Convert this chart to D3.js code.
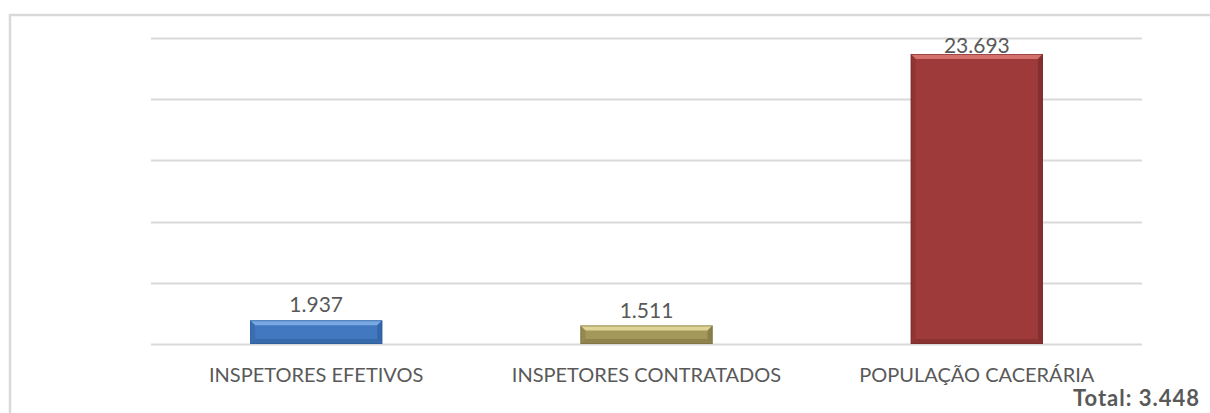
<!DOCTYPE html>
<html>
<head>
<meta charset="utf-8">
<script src="https://cdn.jsdelivr.net/npm/d3@7"></script>
<style>
  html, body { margin: 0; padding: 0; background: #fff; }
  svg { display: block; }
</style>
</head>
<body>
<div class="graph"></div>
<script>
const categories = ["INSPETORES EFETIVOS", "INSPETORES CONTRATADOS", "POPULAÇÃO CACERÁRIA"];
const values = [1937, 1511, 23693];
const valueLabels = ["1.937", "1.511", "23.693"];
const gridTicks = [0, 5000, 10000, 15000, 20000, 25000];
const totalLabel = "Total: 3.448";

const barColors = [
    { main: "#4178c0", light: "#79a8e2", dark: "#2b5b96" },
    { main: "#a3975a", light: "#ddd495", dark: "#7a7040" },
    { main: "#9e3b3a", light: "#d4716c", dark: "#752a29" },
];

const width = 1210;
const height = 413;
const margin = { top: 38, right: 68, bottom: 69, left: 151 };
const bevel = 5;

const svg = d3.select(".graph")
        .append("svg")
        .attr("width", width)
        .attr("height", height);

// outer chart border (runs off the right and bottom edges)
svg.append("rect")
        .attr("x", 10)
        .attr("y", 15)
        .attr("width", width)
        .attr("height", height)
        .attr("fill", "none")
        .attr("stroke", "#d9d9d9")
        .attr("stroke-width", 2.5);

const x = d3.scaleBand()
        .domain(categories)
        .range([margin.left, width - margin.right])
        .paddingInner(0.6)
        .paddingOuter(0.3);

const y = d3.scaleLinear()
        .domain([0, 25000])
        .range([height - margin.bottom, margin.top]);

svg.append("g")
        .selectAll("line")
        .data(gridTicks).enter()
        .append("line")
        .attr("x1", margin.left)
        .attr("x2", width - margin.right)
        .attr("y1", d => Math.round(y(d)) + 0.5)
        .attr("y2", d => Math.round(y(d)) + 0.5)
        .attr("stroke", "#d9d9d9")
        .attr("stroke-width", 2);

const bars = svg.append("g")
        .selectAll("g")
        .data(values).enter()
        .append("g");

bars.each(function (v, i) {
    const g = d3.select(this);
    const x0 = x(categories[i]);
    const bw = x.bandwidth();
    const y0 = y(v);
    const y1 = y(0);
    const c = barColors[i];
    const b = Math.min(bevel, (y1 - y0) / 2);

    g.append("rect")
            .attr("x", x0).attr("y", y0)
            .attr("width", bw).attr("height", y1 - y0)
            .attr("fill", c.main);
    // top bevel
    g.append("polygon")
            .attr("points", [[x0, y0], [x0 + bw, y0], [x0 + bw - b, y0 + b], [x0 + b, y0 + b]].join(" "))
            .attr("fill", c.light);
    // side bevels
    g.append("polygon")
            .attr("points", [[x0, y0], [x0 + b, y0 + b], [x0 + b, y1 - b], [x0, y1]].join(" "))
            .attr("fill", c.dark).attr("opacity", 0.35);
    g.append("polygon")
            .attr("points", [[x0 + bw, y0], [x0 + bw - b, y0 + b], [x0 + bw - b, y1 - b], [x0 + bw, y1]].join(" "))
            .attr("fill", c.dark).attr("opacity", 0.6);
    // bottom bevel
    g.append("polygon")
            .attr("points", [[x0, y1], [x0 + b, y1 - b], [x0 + bw - b, y1 - b], [x0 + bw, y1]].join(" "))
            .attr("fill", c.dark).attr("opacity", 0.5);
    g.append("rect")
            .attr("x", x0 + 0.5).attr("y", y0 + 0.5)
            .attr("width", bw - 1).attr("height", y1 - y0 - 1)
            .attr("fill", "none")
            .attr("stroke", c.dark)
            .attr("stroke-opacity", 0.6);
});

svg.append("g")
        .selectAll("text")
        .data(values).enter()
        .append("text")
        .attr("x", (_, i) => x(categories[i]) + x.bandwidth() / 2)
        .attr("y", d => Math.max(y(d) - 8, y(25000) + 15))
        .attr("text-anchor", "middle")
        .attr("font-family", "Lato, 'DejaVu Sans', sans-serif")
        .attr("font-size", 21)
        .attr("fill", "#595959")
        .text((_, i) => valueLabels[i]);

svg.append("g")
        .selectAll("text")
        .data(categories).enter()
        .append("text")
        .attr("x", d => x(d) + x.bandwidth() / 2)
        .attr("y", y(0) + 38)
        .attr("text-anchor", "middle")
        .attr("font-family", "Lato, 'DejaVu Sans', sans-serif")
        .attr("font-size", 20)
        .attr("fill", "#595959")
        .text(d => d);

svg.append("text")
        .attr("x", 1200)
        .attr("y", 406)
        .attr("text-anchor", "end")
        .attr("font-family", "Lato, 'DejaVu Sans', sans-serif")
        .attr("font-weight", "bold")
        .attr("font-size", 22)
        .attr("letter-spacing", 1)
        .attr("fill", "#595959")
        .text(totalLabel);
</script>
</body>
</html>
